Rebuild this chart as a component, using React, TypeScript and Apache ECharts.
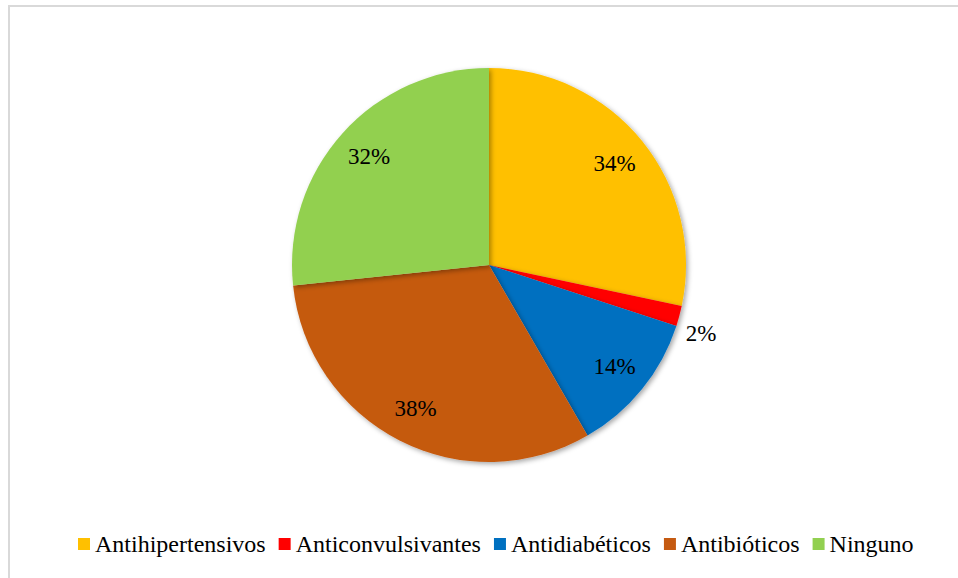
import React, { useEffect, useRef } from "react";
import * as echarts from "echarts";

const categories = ["Antihipertensivos", "Anticonvulsivantes", "Antidiabéticos", "Antibióticos", "Ninguno"];
const values = [34, 2, 14, 38, 32];
const colors = ["#FFC000", "#FF0000", "#0070C0", "#C55A11", "#92D050"];
const outsideLabels = ["Anticonvulsivantes"];

const FONT = "Liberation Serif";

export default function App() {
  const ref = useRef<HTMLDivElement>(null);
  useEffect(() => {
    if (!ref.current) return;
    const chart = echarts.init(ref.current, null, { renderer: "svg" });
    const base = categories.map((name, i) => ({ name, value: values[i] }));
    const cx = 489;
    const cy = 265;
    const R = 197;
    const labelStyle = {
      show: true,
      position: "inside",
      formatter: "{c}%",
      fontFamily: FONT,
      fontSize: 23,
      color: "#000",
    };
    chart.setOption({
      animation: false,
      backgroundColor: "#ffffff",
      color: colors,
      textStyle: { fontFamily: FONT },
      legend: {
        data: categories,
        top: 527,
        left: 73,
        icon: "rect",
        itemWidth: 12,
        itemHeight: 12,
        itemGap: 13,
        textStyle: { fontFamily: FONT, fontSize: 24, color: "#000" },
        selectedMode: false,
      },
      graphic: [
        { type: "line", shape: { x1: 8, y1: 6, x2: 958, y2: 6 }, style: { stroke: "#d9d9d9", lineWidth: 2 } },
        { type: "line", shape: { x1: 9, y1: 5, x2: 9, y2: 578 }, style: { stroke: "#d9d9d9", lineWidth: 2 } },
      ],
      series: [
        {
          type: "pie",
          center: [cx, cy],
          radius: [0, R],
          startAngle: 90,
          clockwise: true,
          label: { show: false },
          labelLine: { show: false },
          itemStyle: {
            shadowBlur: 5,
            shadowColor: "rgba(0,0,0,0.35)",
            shadowOffsetX: 2,
            shadowOffsetY: 2,
          },
          emphasis: { disabled: true },
          data: base,
        },
        {
          type: "pie",
          center: [cx, cy],
          radius: [120, R],
          startAngle: 90,
          clockwise: true,
          silent: true,
          itemStyle: { color: "transparent" },
          label: labelStyle,
          labelLine: { show: false },
          emphasis: { disabled: true },
          data: base.map((d) => ({
            ...d,
            label: { show: !outsideLabels.includes(d.name) },
          })),
        },
        {
          type: "pie",
          center: [cx, cy],
          radius: [212, 228],
          startAngle: 87,
          clockwise: true,
          silent: true,
          itemStyle: { color: "transparent" },
          label: labelStyle,
          labelLine: { show: false },
          emphasis: { disabled: true },
          data: base.map((d) => ({
            ...d,
            label: { show: outsideLabels.includes(d.name) },
          })),
        },
      ],
    });
    return () => chart.dispose();
  }, []);
  return (
    <div
      ref={ref}
      style={{ position: "fixed", left: 0, top: 0, width: 958, height: 578 }}
    />
  );
}
